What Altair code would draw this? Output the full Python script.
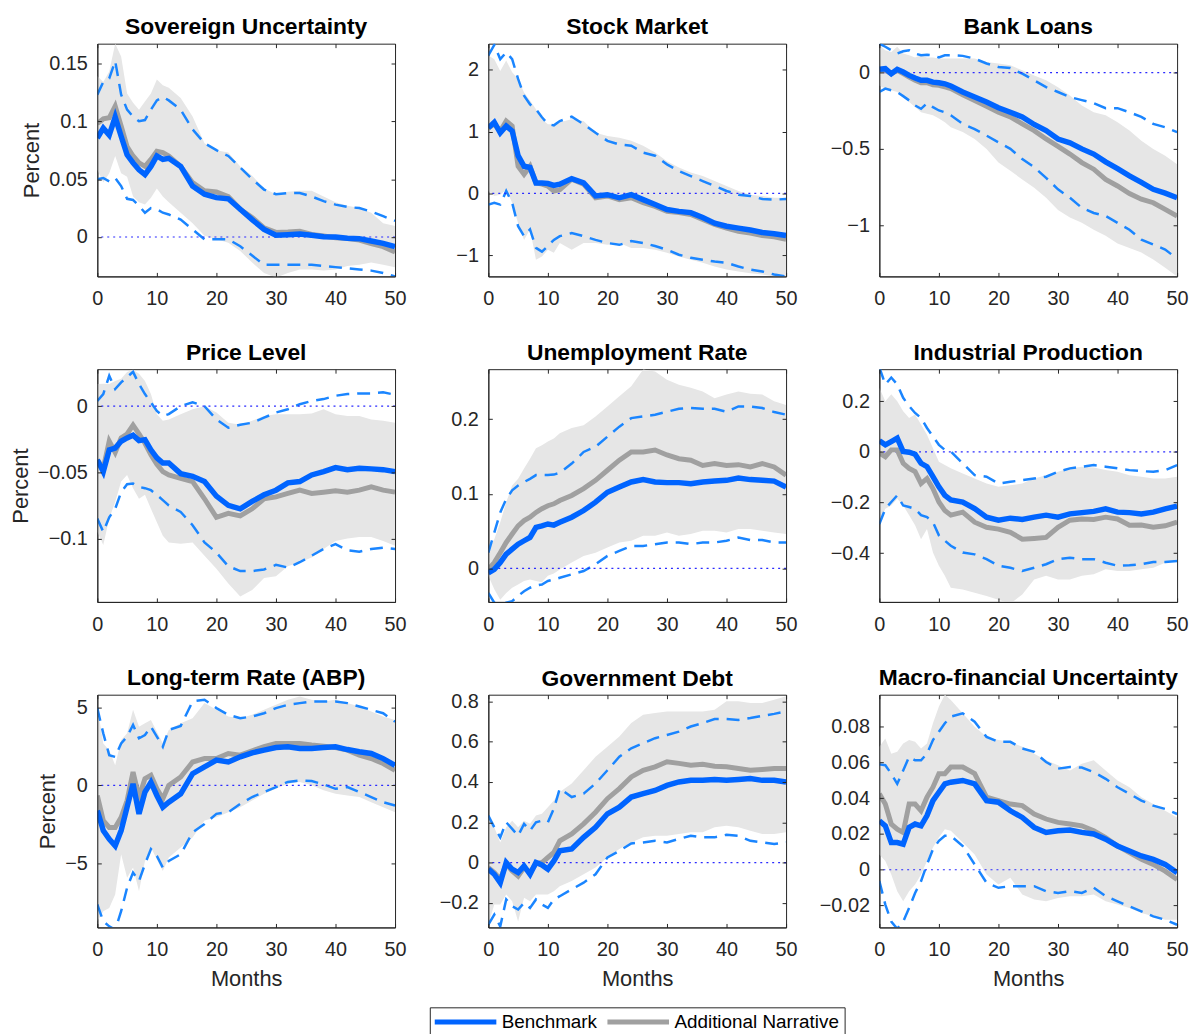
import altair as alt
import pandas as pd

months = list(range(0, 13)) + list(range(14, 51, 2))

BLUE = "#0064ff"
DASH = "#1a85ff"
GREY = "#a0a0a0"
BAND = "#e6e6e6"
ZERO = "#2a2aff"
AXC = "#262626"
FONT = "Liberation Sans"

# ---------------- Sovereign Uncertainty ----------------
sov_blue = [0.0855, 0.094, 0.088, 0.1036, 0.087, 0.071, 0.064, 0.058, 0.054, 0.061, 0.070, 0.067, 0.068,
            0.061, 0.044, 0.037, 0.034, 0.033, 0.024, 0.015, 0.0066, 0.0015, 0.002, 0.0026, 0.0015, 0.0003, 0.0,
            -0.001, -0.0014, -0.0034, -0.0055, -0.0083]
sov_grey = [0.098, 0.102, 0.103, 0.113, 0.096, 0.078, 0.070, 0.064, 0.061, 0.067, 0.074, 0.073, 0.070,
            0.061, 0.047, 0.040, 0.039, 0.035, 0.024, 0.017, 0.008, 0.004, 0.0043, 0.005, 0.0023, 0.0009, -0.0006,
            -0.0014, -0.0026, -0.0057, -0.0083, -0.013]
sov_band_hi = [0.139, 0.134, 0.143, 0.167, 0.156, 0.124, 0.116, 0.110, 0.117, 0.124, 0.136, 0.131, 0.129,
               0.120, 0.104, 0.081, 0.075, 0.073, 0.061, 0.053, 0.042, 0.037, 0.039, 0.040, 0.040, 0.035, 0.030,
               0.027, 0.025, 0.021, 0.012, 0.0095]
sov_band_lo = [0.058, 0.047, 0.055, 0.070, 0.055, 0.052, 0.035, 0.030, 0.028, 0.034, 0.042, 0.035, 0.030,
               0.021, 0.012, 0.001, -0.002, -0.005, -0.012, -0.022, -0.031, -0.035, -0.031, -0.028, -0.028, -0.029,
               -0.028, -0.025, -0.024, -0.022, -0.024, -0.026]
sov_dash_hi = [0.123, 0.134, 0.137, 0.152, 0.123, 0.110, 0.104, 0.100, 0.101, 0.110, 0.118, 0.121, 0.118,
               0.110, 0.093, 0.081, 0.075, 0.070, 0.060, 0.050, 0.041, 0.037, 0.038, 0.038, 0.035, 0.031, 0.028,
               0.026, 0.025, 0.022, 0.018, 0.014]
sov_dash_lo = [0.050, 0.051, 0.048, 0.051, 0.044, 0.033, 0.032, 0.027, 0.021, 0.025, 0.024, 0.021, 0.0195,
               0.015, 0.0066, -0.002, -0.002, -0.002, -0.008, -0.016, -0.024, -0.024, -0.024, -0.024, -0.024,
               -0.025, -0.026, -0.027, -0.028, -0.029, -0.031, -0.034]

# ---------------- Stock Market ----------------
stk_blue = [1.06, 1.15, 0.98, 1.09, 1.01, 0.61, 0.44, 0.42, 0.17, 0.17, 0.16, 0.13, 0.15,
            0.24, 0.17, -0.04, -0.02, -0.07, -0.02, -0.10, -0.18, -0.26, -0.29, -0.31, -0.39, -0.48, -0.53,
            -0.56, -0.59, -0.63, -0.65, -0.68]
stk_grey = [1.06, 1.12, 1.01, 1.17, 1.09, 0.44, 0.31, 0.44, 0.17, 0.15, 0.12, 0.04, 0.06,
            0.23, 0.15, -0.07, -0.04, -0.10, -0.07, -0.15, -0.21, -0.29, -0.31, -0.34, -0.42, -0.50, -0.56,
            -0.61, -0.64, -0.68, -0.70, -0.74]
stk_band_hi = [2.23, 2.17, 1.98, 2.15, 1.96, 1.85, 1.63, 1.50, 1.36, 1.20, 1.12, 1.12, 1.15,
               1.20, 1.17, 0.98, 0.93, 0.90, 0.85, 0.77, 0.66, 0.52, 0.42, 0.34, 0.28, 0.20, 0.12,
               0.04, -0.02, -0.04, -0.07, -0.07]
stk_band_lo = [0.04, -0.04, -0.02, 0.06, -0.15, -0.48, -0.75, -0.58, -1.07, -1.02, -0.91, -0.96, -0.80,
               -0.91, -0.80, -0.80, -0.83, -0.80, -0.88, -0.88, -0.91, -0.96, -1.02, -1.07, -1.12, -1.18, -1.23,
               -1.26, -1.29, -1.31, -1.34, -1.34]
stk_dash_hi = [2.23, 2.40, 2.17, 2.28, 2.17, 1.85, 1.58, 1.44, 1.36, 1.23, 1.12, 1.10, 1.17,
               1.24, 1.12, 0.98, 0.85, 0.79, 0.77, 0.66, 0.61, 0.47, 0.36, 0.28, 0.20, 0.12, 0.04,
               -0.02, -0.04, -0.09, -0.10, -0.09]
stk_dash_lo = [-0.18, -0.15, -0.18, 0.04, -0.15, -0.53, -0.69, -0.58, -0.88, -0.94, -0.85, -0.75, -0.69,
               -0.64, -0.69, -0.75, -0.80, -0.83, -0.77, -0.80, -0.85, -0.91, -0.99, -1.04, -1.07, -1.10, -1.12,
               -1.18, -1.23, -1.26, -1.31, -1.34]

# ---------------- Bank Loans ----------------
bnk_blue = [0.022, 0.026, -0.007, 0.022, 0.004, -0.018, -0.035, -0.05, -0.05, -0.062, -0.066, -0.073, -0.088,
            -0.127, -0.16, -0.193, -0.23, -0.26, -0.29, -0.34, -0.38, -0.435, -0.46, -0.50, -0.534, -0.585, -0.63,
            -0.677, -0.72, -0.765, -0.79, -0.82]
bnk_grey = [0.015, 0.015, -0.007, 0.015, -0.007, -0.029, -0.05, -0.066, -0.066, -0.079, -0.083, -0.094, -0.105,
            -0.145, -0.182, -0.22, -0.26, -0.29, -0.336, -0.38, -0.435, -0.483, -0.534, -0.59, -0.633, -0.70,
            -0.743, -0.793, -0.83, -0.853, -0.897, -0.94]
bnk_band_hi = [0.18, 0.147, 0.136, 0.17, 0.125, 0.114, 0.10, 0.114, 0.10, 0.10, 0.092, 0.092, 0.092,
               0.092, 0.092, 0.07, 0.06, 0.048, 0.015, -0.018, -0.05, -0.095, -0.15, -0.215, -0.26, -0.28, -0.325,
               -0.38, -0.446, -0.50, -0.545, -0.60]
bnk_band_lo = [-0.084, -0.105, -0.116, -0.127, -0.16, -0.193, -0.226, -0.26, -0.27, -0.28, -0.30, -0.325, -0.358,
               -0.39, -0.435, -0.50, -0.59, -0.644, -0.70, -0.754, -0.82, -0.90, -0.95, -0.985, -1.03, -1.07,
               -1.12, -1.15, -1.18, -1.226, -1.28, -1.336]
bnk_dash_hi = [0.19, 0.17, 0.147, 0.125, 0.14, 0.147, 0.125, 0.114, 0.118, 0.114, 0.10, 0.114, 0.114,
               0.11, 0.092, 0.06, 0.037, 0.03, -0.007, -0.05, -0.095, -0.127, -0.16, -0.18, -0.20, -0.233, -0.233,
               -0.26, -0.29, -0.336, -0.358, -0.39]
bnk_dash_lo = [-0.127, -0.105, -0.116, -0.127, -0.154, -0.182, -0.215, -0.237, -0.20, -0.226, -0.248, -0.26, -0.28,
               -0.336, -0.37, -0.413, -0.457, -0.50, -0.567, -0.62, -0.69, -0.765, -0.82, -0.886, -0.92, -0.94,
               -0.985, -1.03, -1.095, -1.127, -1.16, -1.22]

# ---------------- Price Level ----------------
prc_blue = [-0.0406, -0.0495, -0.033, -0.0316, -0.0265, -0.024, -0.022, -0.026, -0.0253, -0.033, -0.039, -0.043,
            -0.043, -0.051, -0.053, -0.057, -0.068, -0.075, -0.0776, -0.072, -0.067, -0.0635, -0.058, -0.057,
            -0.052, -0.0495, -0.0464, -0.048, -0.047, -0.0474, -0.048, -0.0495]
prc_grey = [-0.0406, -0.047, -0.0265, -0.035, -0.024, -0.021, -0.0143, -0.021, -0.028, -0.0367, -0.044, -0.0495,
            -0.052, -0.0546, -0.057, -0.070, -0.084, -0.081, -0.083, -0.0776, -0.070, -0.0686, -0.066, -0.0635,
            -0.066, -0.065, -0.064, -0.065, -0.0635, -0.061, -0.0635, -0.065]
prc_band_hi = [0.0168, 0.017, 0.0168, 0.019, 0.0207, 0.0258, 0.0276, 0.0245, 0.019, 0.0092, -0.006, -0.011, -0.01,
               -0.006, -0.0023, 0.0, -0.0048, -0.0125, -0.014, -0.011, -0.0074, -0.006, -0.006, -0.006, -0.0056,
               -0.0023, -0.006, -0.0074, -0.0074, -0.01, -0.011, -0.0125]
prc_band_lo = [-0.095, -0.105, -0.085, -0.0724, -0.057, -0.052, -0.062, -0.07, -0.067, -0.0776, -0.0878, -0.098,
               -0.103, -0.104, -0.103, -0.113, -0.123, -0.134, -0.144, -0.139, -0.130, -0.1286, -0.121, -0.118,
               -0.1145, -0.108, -0.102, -0.10, -0.099, -0.099, -0.102, -0.1056]
prc_dash_hi = [0.004, 0.0092, 0.023, 0.013, 0.018, 0.022, 0.026, 0.0168, 0.0092, 0.0028, -0.0036, -0.0074, -0.006,
               0.0, 0.003, 0.0, -0.01, -0.0163, -0.014, -0.0125, -0.0087, -0.0048, -0.0023, 0.0015, 0.004, 0.0054,
               0.0079, 0.0092, 0.0097, 0.0097, 0.0105, 0.0087]
prc_dash_lo = [-0.085, -0.095, -0.084, -0.0776, -0.065, -0.059, -0.0584, -0.061, -0.062, -0.0635, -0.067, -0.071,
               -0.075, -0.080, -0.090, -0.103, -0.1107, -0.121, -0.1247, -0.1247, -0.1235, -0.12, -0.122, -0.118,
               -0.113, -0.108, -0.1043, -0.109, -0.11, -0.108, -0.107, -0.108]

# ---------------- Unemployment Rate ----------------
une_blue = [-0.006, -0.0014, 0.0077, 0.019, 0.0257, 0.0324, 0.037, 0.0414, 0.055, 0.057, 0.0595, 0.058, 0.0617,
            0.0685, 0.0775, 0.0887, 0.102, 0.109, 0.1158, 0.119, 0.1158, 0.1149, 0.1149, 0.1135, 0.1158, 0.117,
            0.118, 0.121, 0.119, 0.118, 0.117, 0.109]
une_grey = [-0.0014, 0.0077, 0.021, 0.0347, 0.046, 0.057, 0.064, 0.0685, 0.075, 0.08, 0.084, 0.0865, 0.091,
            0.0977, 0.107, 0.118, 0.1315, 0.145, 0.156, 0.156, 0.1586, 0.152, 0.147, 0.145, 0.138, 0.1405, 0.138,
            0.139, 0.136, 0.1405, 0.136, 0.125]
une_band_hi = [0.0257, 0.039, 0.0617, 0.0887, 0.111, 0.12, 0.134, 0.147, 0.161, 0.165, 0.17, 0.174, 0.181,
               0.188, 0.192, 0.2036, 0.217, 0.2306, 0.244, 0.2667, 0.264, 0.253, 0.246, 0.242, 0.237, 0.228, 0.233,
               0.237, 0.234, 0.233, 0.224, 0.219]
une_band_lo = [-0.01, -0.028, -0.042, -0.033, -0.026, -0.0216, -0.017, -0.015, -0.017, -0.0185, -0.01, -0.0068,
               -0.0014, 0.0077, 0.0167, 0.021, 0.028, 0.0347, 0.037, 0.0437, 0.0437, 0.048, 0.0437, 0.046, 0.0505,
               0.0505, 0.048, 0.0527, 0.0527, 0.0505, 0.048, 0.046]
une_dash_hi = [0.021, 0.048, 0.075, 0.093, 0.1045, 0.111, 0.1158, 0.12, 0.125, 0.125, 0.125, 0.1257, 0.128,
               0.1405, 0.156, 0.163, 0.1766, 0.19, 0.2014, 0.2036, 0.206, 0.21, 0.214, 0.215, 0.214, 0.214, 0.21,
               0.217, 0.217, 0.215, 0.2095, 0.206]
une_dash_lo = [-0.033, -0.046, -0.05, -0.046, -0.044, -0.037, -0.0306, -0.026, -0.023, -0.0216, -0.017, -0.015,
               -0.0126, -0.008, -0.0036, 0.0054, 0.0167, 0.0234, 0.030, 0.030, 0.0324, 0.0347, 0.0347, 0.0324,
               0.0347, 0.0347, 0.037, 0.0414, 0.038, 0.038, 0.0347, 0.0347]

# ---------------- Industrial Production ----------------
ind_blue = [0.044, 0.028, 0.041, 0.0546, 0.0013, -0.0013, -0.009, -0.045, -0.0585, -0.098, -0.138, -0.172, -0.19,
            -0.198, -0.224, -0.258, -0.27, -0.262, -0.267, -0.258, -0.25, -0.258, -0.245, -0.24, -0.235, -0.225,
            -0.238, -0.24, -0.245, -0.238, -0.225, -0.214]
ind_grey = [-0.005, -0.019, 0.008, 0.008, -0.045, -0.065, -0.078, -0.125, -0.105, -0.145, -0.198, -0.232, -0.25,
            -0.238, -0.278, -0.298, -0.305, -0.318, -0.345, -0.342, -0.338, -0.298, -0.27, -0.265, -0.267, -0.258,
            -0.265, -0.29, -0.289, -0.298, -0.292, -0.278]
ind_band_hi = [0.254, 0.20, 0.2275, 0.20, 0.161, 0.134, 0.148, 0.108, 0.068, 0.0146, -0.0386, -0.052, -0.065,
               -0.085, -0.105, -0.125, -0.138, -0.132, -0.125, -0.105, -0.092, -0.0785, -0.065, -0.0585, -0.062,
               -0.072, -0.0785, -0.092, -0.098, -0.105, -0.105, -0.098]
ind_band_lo = [-0.278, -0.225, -0.212, -0.185, -0.212, -0.25, -0.29, -0.345, -0.305, -0.398, -0.45, -0.49, -0.537,
               -0.544, -0.557, -0.57, -0.584, -0.60, -0.564, -0.504, -0.49, -0.504, -0.504, -0.49, -0.484, -0.464,
               -0.471, -0.471, -0.464, -0.458, -0.438, -0.424]
ind_dash_hi = [0.334, 0.267, 0.294, 0.267, 0.2137, 0.181, 0.154, 0.134, 0.0945, 0.061, 0.028, 0.008, 0.0013,
               -0.045, -0.092, -0.098, -0.125, -0.118, -0.112, -0.105, -0.098, -0.0785, -0.065, -0.0585, -0.052,
               -0.0585, -0.065, -0.072, -0.076, -0.0785, -0.072, -0.052]
ind_dash_lo = [-0.285, -0.225, -0.198, -0.172, -0.212, -0.218, -0.225, -0.25, -0.258, -0.278, -0.33, -0.351, -0.371,
               -0.398, -0.405, -0.424, -0.45, -0.458, -0.471, -0.458, -0.444, -0.424, -0.418, -0.424, -0.424,
               -0.438, -0.45, -0.448, -0.444, -0.435, -0.435, -0.431]

# ---------------- Long-term Rate (ABP) ----------------
ltr_blue = [-1.62, -2.9, -3.45, -3.88, -2.9, -1.4, 0.1, -1.83, -0.43, 0.2, -0.65, -1.4, -1.08,
            -0.54, 0.75, 1.18, 1.62, 1.5, 1.83, 2.09, 2.26, 2.43, 2.48, 2.37, 2.37, 2.43, 2.48, 2.3, 2.16, 2.05,
            1.72, 1.29]
ltr_grey = [-0.65, -2.26, -2.7, -2.7, -2.05, -0.97, 0.86, -0.75, 0.43, 0.65, -0.22, -0.86, 0.0,
            0.54, 1.5, 1.72, 1.72, 2.05, 1.94, 2.22, 2.48, 2.69, 2.69, 2.69, 2.59, 2.52, 2.43, 2.26, 1.94, 1.72,
            1.4, 0.97]
ltr_band_hi = [5.06, 2.69, 2.26, 1.29, 2.91, 3.34, 4.85, 3.77, 3.99, 4.2, 3.45, 2.69, 3.56,
               3.99, 4.31, 5.28, 4.85, 4.42, 4.31, 4.53, 4.85, 5.17, 5.5, 5.71, 5.5, 5.39, 5.5, 5.28, 5.06, 4.74,
               4.42, 4.2]
ltr_band_lo = [-8.73, -8.08, -7.87, -7.0, -4.42, -5.93, -5.28, -6.79, -4.85, -3.99, -4.74, -5.5, -4.63,
               -3.99, -3.34, -2.26, -2.05, -1.72, -1.4, -0.97, -0.54, -0.22, 0.1, 0.22, 0.0, -0.32, -0.54, -0.65,
               -0.75, -1.08, -1.4, -1.72]
ltr_dash_hi = [4.96, 3.34, 1.94, 1.83, 2.69, 3.13, 3.88, 3.02, 3.23, 3.77, 3.13, 2.48, 3.56,
               3.81, 5.39, 5.5, 4.96, 4.53, 4.31, 4.42, 4.63, 4.96, 5.17, 5.28, 5.39, 5.39, 5.39, 5.28, 5.06, 4.85,
               4.63, 4.09]
ltr_dash_lo = [-7.65, -8.73, -9.05, -9.27, -8.08, -6.57, -5.6, -6.14, -5.06, -4.09, -4.53, -5.28, -4.85,
               -4.42, -3.02, -2.48, -1.83, -1.72, -1.19, -0.75, -0.43, -0.11, 0.22, 0.32, 0.28, 0.06, -0.22, -0.11,
               -0.43, -0.75, -1.08, -1.29]

# ---------------- Government Debt ----------------
gov_blue = [-0.033, -0.058, -0.1, 0.0, -0.033, -0.05, -0.017, -0.058, 0.0, -0.012, -0.033, 0.008, 0.058,
            0.067, 0.125, 0.175, 0.242, 0.275, 0.325, 0.342, 0.358, 0.383, 0.40, 0.408, 0.408, 0.412, 0.408,
            0.412, 0.417, 0.408, 0.408, 0.40]
gov_grey = [-0.025, -0.05, -0.083, -0.008, -0.042, -0.067, -0.025, -0.05, -0.005, 0.0, 0.025, 0.05, 0.108,
            0.142, 0.192, 0.25, 0.317, 0.367, 0.425, 0.458, 0.475, 0.50, 0.492, 0.483, 0.488, 0.478, 0.475,
            0.467, 0.458, 0.462, 0.467, 0.467]
gov_band_hi = [0.225, 0.175, 0.1, 0.175, 0.208, 0.175, 0.208, 0.192, 0.233, 0.242, 0.275, 0.308, 0.35,
               0.392, 0.458, 0.525, 0.575, 0.625, 0.692, 0.733, 0.742, 0.75, 0.75, 0.75, 0.75, 0.758, 0.80, 0.80,
               0.792, 0.792, 0.808, 0.825]
gov_band_lo = [-0.308, -0.208, -0.208, -0.158, -0.192, -0.292, -0.175, -0.192, -0.158, -0.158, -0.158, -0.142,
               -0.117, -0.092, -0.058, -0.025, 0.025, 0.067, 0.1, 0.125, 0.133, 0.133, 0.142, 0.15, 0.15, 0.175,
               0.183, 0.175, 0.158, 0.142, 0.142, 0.15]
gov_dash_hi = [0.233, 0.175, 0.125, 0.2, 0.167, 0.133, 0.192, 0.158, 0.2, 0.208, 0.2, 0.267, 0.367,
               0.325, 0.342, 0.392, 0.458, 0.525, 0.567, 0.592, 0.617, 0.633, 0.65, 0.675, 0.692, 0.712, 0.712,
               0.708, 0.717, 0.728, 0.738, 0.75]
gov_dash_lo = [-0.308, -0.258, -0.317, -0.183, -0.217, -0.233, -0.2, -0.225, -0.183, -0.208, -0.225, -0.183,
               -0.167, -0.133, -0.1, -0.058, 0.025, 0.058, 0.095, 0.1, 0.108, 0.1, 0.117, 0.133, 0.125, 0.125,
               0.138, 0.133, 0.108, 0.1, 0.092, 0.1]

# ---------------- Macro-financial Uncertainty ----------------
mac_blue = [0.0274, 0.0246, 0.0152, 0.0152, 0.0143, 0.0237, 0.0256, 0.0246, 0.0303, 0.0387, 0.0434, 0.0481,
            0.049, 0.05, 0.0481, 0.0387, 0.0378, 0.033, 0.0293, 0.0237, 0.0209, 0.0218, 0.0222, 0.0209, 0.02,
            0.0171, 0.0133, 0.0105, 0.0077, 0.0058, 0.003, -0.0017]
mac_grey = [0.0425, 0.0368, 0.0256, 0.0227, 0.0209, 0.0368, 0.0368, 0.033, 0.0406, 0.0462, 0.0538, 0.0538,
            0.0575, 0.0575, 0.0538, 0.0406, 0.0387, 0.0368, 0.0359, 0.0312, 0.0284, 0.0265, 0.0256, 0.0246,
            0.0218, 0.018, 0.0133, 0.0096, 0.0058, 0.003, -0.0008, -0.0055]
mac_band_hi = [0.0688, 0.0735, 0.065, 0.066, 0.0707, 0.0726, 0.0716, 0.0679, 0.0707, 0.082, 0.0914, 0.098, 0.095,
               0.0876, 0.08, 0.0744, 0.0726, 0.0716, 0.0688, 0.065, 0.0613, 0.0585, 0.0556, 0.0594, 0.0613,
               0.0556, 0.05, 0.0462, 0.0406, 0.0368, 0.033, 0.0293]
mac_band_lo = [0.0086, 0.0049, -0.0026, -0.012, -0.0177, -0.012, -0.0083, -0.0026, 0.0049, 0.0124, 0.018, 0.0227,
               0.0218, 0.0152, 0.0086, -0.0026, -0.0083, -0.0045, -0.0139, -0.0167, -0.0177, -0.0158, -0.0148,
               -0.0148, -0.0139, -0.0177, -0.0195, -0.0214, -0.0242, -0.0261, -0.028, -0.028]
mac_dash_hi = [0.059, 0.0585, 0.0538, 0.0481, 0.0556, 0.0632, 0.0613, 0.0613, 0.065, 0.0726, 0.0773, 0.082,
               0.0857, 0.0876, 0.0829, 0.0744, 0.0716, 0.0716, 0.0679, 0.066, 0.0603, 0.0566, 0.0575, 0.0572,
               0.0547, 0.0509, 0.0462, 0.0425, 0.0387, 0.0359, 0.034, 0.0312]
mac_dash_lo = [-0.0064, -0.0195, -0.029, -0.033, -0.029, -0.0214, -0.013, -0.0064, 0.003, 0.0115, 0.0162, 0.019,
               0.019, 0.0133, 0.003, -0.0073, -0.0101, -0.0092, -0.0092, -0.0092, -0.012, -0.013, -0.012, -0.013,
               -0.0101, -0.0148, -0.0177, -0.0205, -0.0233, -0.0261, -0.028, -0.0308]

panels = [
    ("Sovereign Uncertainty", sov_blue, sov_grey, sov_band_lo, sov_band_hi, sov_dash_lo, sov_dash_hi,
     [-0.034, 0.167], [0, 0.05, 0.1, 0.15]),
    ("Stock Market", stk_blue, stk_grey, stk_band_lo, stk_band_hi, stk_dash_lo, stk_dash_hi,
     [-1.34, 2.42], [-1, 0, 1, 2]),
    ("Bank Loans", bnk_blue, bnk_grey, bnk_band_lo, bnk_band_hi, bnk_dash_lo, bnk_dash_hi,
     [-1.336, 0.19], [-1, -0.5, 0]),
    ("Price Level", prc_blue, prc_grey, prc_band_lo, prc_band_hi, prc_dash_lo, prc_dash_hi,
     [-0.148, 0.028], [-0.1, -0.05, 0]),
    ("Unemployment Rate", une_blue, une_grey, une_band_lo, une_band_hi, une_dash_lo, une_dash_hi,
     [-0.045, 0.267], [0, 0.1, 0.2]),
    ("Industrial Production", ind_blue, ind_grey, ind_band_lo, ind_band_hi, ind_dash_lo, ind_dash_hi,
     [-0.593, 0.327], [-0.4, -0.2, 0, 0.2]),
    ("Long-term Rate (ABP)", ltr_blue, ltr_grey, ltr_band_lo, ltr_band_hi, ltr_dash_lo, ltr_dash_hi,
     [-9.12, 5.82], [-5, 0, 5]),
    ("Government Debt", gov_blue, gov_grey, gov_band_lo, gov_band_hi, gov_dash_lo, gov_dash_hi,
     [-0.322, 0.833], [-0.2, 0, 0.2, 0.4, 0.6, 0.8]),
    ("Macro-financial Uncertainty", mac_blue, mac_grey, mac_band_lo, mac_band_hi, mac_dash_lo, mac_dash_hi,
     [-0.0323, 0.098], [-0.02, 0, 0.02, 0.04, 0.06, 0.08]),
]
# title gap above each panel (Government Debt's top tick label already reaches above its frame)
title_offsets = [4, 4, 4, 4, 4, 4, 4, 0, 4]

x_ticks = [0, 10, 20, 30, 40, 50]
series_names = ["Benchmark", "Additional Narrative"]

W, H = 300, 234.5
TICK_IN = {"expr": "-4"}

color_enc = alt.Color(
    "series:N",
    scale=alt.Scale(domain=series_names, range=[BLUE, GREY]),
    legend=alt.Legend(
        title=None, orient="none", legendX=335, legendY=971, direction="horizontal",
        symbolType="M0,0H12", symbolSize=107, symbolStrokeWidth=5, symbolOffset=-9.5,
        labelFontSize=19, labelFont=FONT, labelColor="black", labelOffset=58, labelLimit=400,
        columnPadding=0, padding=5, strokeColor=AXC, fillColor="white",
    ),
)


def make_panel(idx, p):
    title, blue, grey, blo, bhi, dlo, dhi, dom, yt = p
    row, col = divmod(idx, 3)
    df = pd.DataFrame({"month": months, "blue": blue, "grey": grey, "band_lo": blo,
                       "band_hi": bhi, "dash_lo": dlo, "dash_hi": dhi})
    xaxis_kw = dict(orient="bottom", values=x_ticks, labelFlush=False, tickSize=TICK_IN, labelPadding=16.5,
                    titlePadding=9, zindex=1)
    xaxis = alt.Axis(title="Months", **xaxis_kw) if row == 2 else alt.Axis(title=None, **xaxis_kw)
    yaxis_kw = dict(orient="left", values=yt, format="~g", tickSize=TICK_IN, labelPadding=14,
                    titlePadding=5, zindex=1)
    yaxis = alt.Axis(title="Percent", **yaxis_kw) if col == 0 else alt.Axis(title=None, **yaxis_kw)
    top_axis = alt.Axis(orient="top", values=x_ticks, labels=False, title=None, domain=False,
                        tickSize=TICK_IN, zindex=1, minExtent=0, maxExtent=0)
    right_axis = alt.Axis(orient="right", values=yt, labels=False, title=None, domain=False,
                          tickSize=TICK_IN, zindex=1, minExtent=0, maxExtent=0)
    xs = alt.Scale(domain=[0, 50], nice=False, zero=False)
    ys = alt.Scale(domain=dom, nice=False, zero=False)

    def X(ax=None):
        if ax is None:
            return alt.X("month:Q", scale=xs, axis=None)
        return alt.X("month:Q", scale=xs, axis=ax)

    def Y(f, ax=None):
        if ax is None:
            return alt.Y(f + ":Q", scale=ys, axis=None)
        return alt.Y(f + ":Q", scale=ys, axis=ax)

    base = alt.Chart(df)
    band = base.mark_area(color=BAND, clip=True).encode(
        x=X(xaxis), y=Y("band_lo", yaxis), y2="band_hi:Q")
    dhi_l = base.mark_line(color=DASH, strokeDash=[13, 8], strokeWidth=2.5, clip=True).encode(
        x=X(top_axis), y=Y("dash_hi", right_axis))
    dlo_l = base.mark_line(color=DASH, strokeDash=[13, 8], strokeWidth=2.5, clip=True).encode(
        x=X(), y=Y("dash_lo"))
    zero = alt.Chart(pd.DataFrame({"zero": [0.0]})).mark_rule(
        color=ZERO, strokeDash=[2, 4], strokeWidth=1.2).encode(y=Y("zero"))
    grey_l = base.transform_calculate(series="'Additional Narrative'").mark_line(
        strokeWidth=5, clip=True).encode(x=X(), y=Y("grey"), color=color_enc)
    blue_l = base.transform_calculate(series="'Benchmark'").mark_line(
        strokeWidth=5.5, clip=True).encode(x=X(), y=Y("blue"), color=color_enc)
    return alt.layer(band, dhi_l, dlo_l, zero, grey_l, blue_l).resolve_axis(
        x="independent", y="independent"
    ).properties(
        width=W, height=H,
        title=alt.TitleParams(title, fontSize=23, fontWeight="bold", color="black", font=FONT,
                              offset=title_offsets[idx], frame="group", anchor="middle"),
    )


charts = [make_panel(i, p) for i, p in enumerate(panels)]

chart = alt.concat(*charts, columns=3, spacing={"row": 93, "column": 94}, bounds="flush").resolve_scale(
    color="shared", x="independent", y="independent"
).properties(
    padding={"left": 0, "top": 4, "right": 0, "bottom": 0}
).configure(
    font=FONT, background="white"
).configure_view(
    stroke=AXC, strokeWidth=1
).configure_axis(
    grid=False, domainColor=AXC, domainWidth=1, tickColor=AXC, tickWidth=1,
    labelColor=AXC, titleColor=AXC,
    labelFont=FONT, titleFont=FONT, labelFontSize=20, titleFontSize=22, titleFontWeight="normal",
)

chart.save("out.html", embed_options={"renderer": "svg", "actions": False})
